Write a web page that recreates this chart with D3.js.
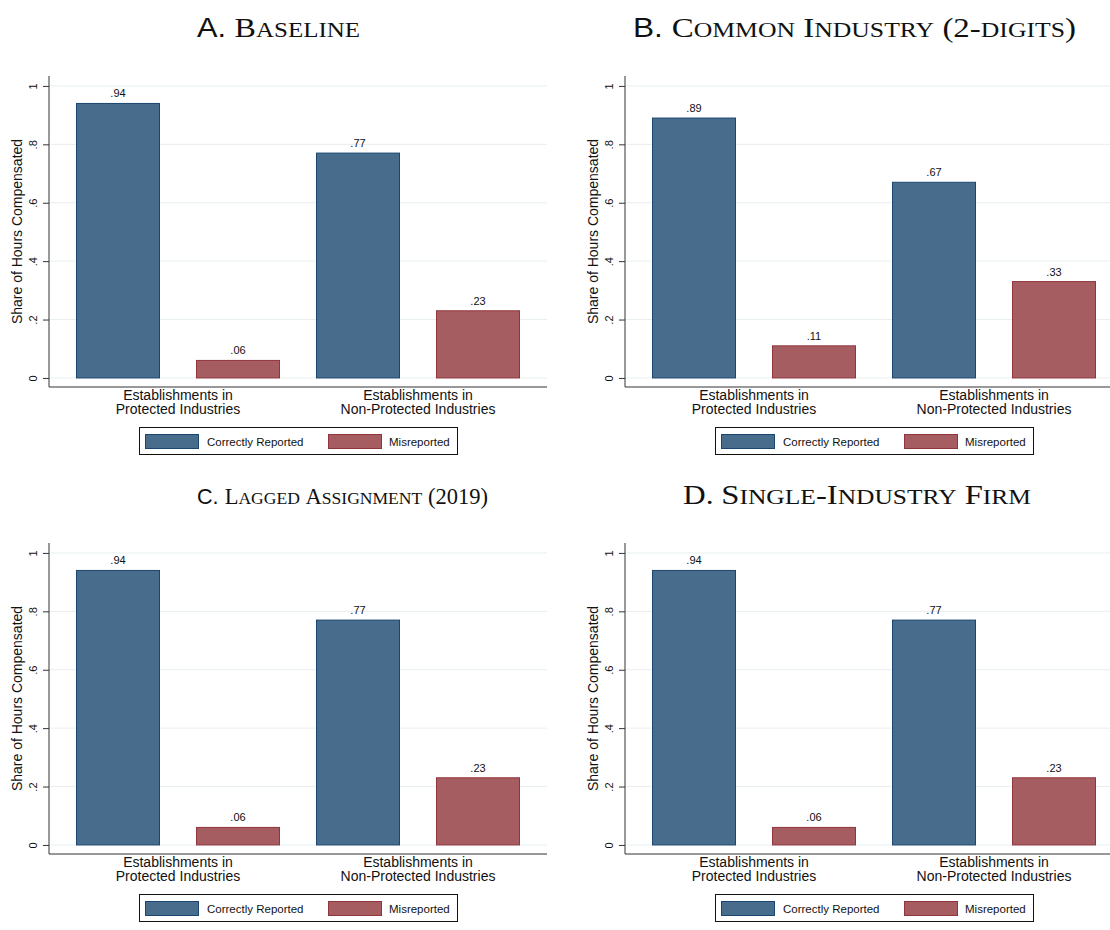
<!DOCTYPE html>
<html>
<head>
<meta charset="utf-8">
<script src="https://cdn.jsdelivr.net/npm/d3@7/dist/d3.min.js"></script>
<style>
  html, body { margin: 0; padding: 0; background: #fff; }
  svg { display: block; }
</style>
</head>
<body>
<svg id="chart" width="1110" height="930"></svg>
<script>
// ---------------- data ----------------
const panelPrefixes = ["A.", "B.", "C.", "D."];
const panelTitles = ["Baseline", "Common Industry (2-digits)", "Lagged Assignment (2019)", "Single-Industry Firm"];
const categories = [["Establishments in", "Protected Industries"], ["Establishments in", "Non-Protected Industries"]];
const seriesNames = ["Correctly Reported", "Misreported"];
const protectedCorrect = [0.94, 0.89, 0.94, 0.94];
const protectedMis = [0.06, 0.11, 0.06, 0.06];
const nonProtectedCorrect = [0.77, 0.67, 0.77, 0.77];
const nonProtectedMis = [0.23, 0.33, 0.23, 0.23];
const yTicks = [0, 0.2, 0.4, 0.6, 0.8, 1];
const yTickLabels = ["0", ".2", ".4", ".6", ".8", "1"];
const yTitle = "Share of Hours Compensated";

// ---------------- style ----------------
const fills = ["#486c8c", "#a65d62"];
const strokes = ["#1a476f", "#90353b"];
const gridColor = "#e7eff1";
const axisColor = "#333";
const sans = "'Liberation Sans', Arial, sans-serif";
const serif = "'Liberation Serif', 'Times New Roman', serif";

// panel placement
const panelOrigins = [[0, 0], [576, 0], [0, 467], [576, 467]];
const titleSpecs = [
  {x: 197, w: 163},
  {x: 633, w: 443},
  {x: 197, w: 291},
  {x: 683, w: 348}
];

const svg = d3.select("#chart");

// split a title into runs: lowercase letters become small capitals
function smallCapRuns(str) {
  const runs = [];
  for (const ch of str) {
    const small = /[a-z]/.test(ch);
    const last = runs[runs.length - 1];
    if (last && last.small === small) last.t += small ? ch.toUpperCase() : ch;
    else runs.push({small, t: small ? ch.toUpperCase() : ch});
  }
  return runs;
}

function drawTitle(i, o, fs) {
  const ts = titleSpecs[i];
  const tt = svg.append("text")
    .attr("x", ts.x).attr("y", o[1] + 37)
    .attr("font-family", serif).attr("font-size", fs).attr("fill", "#111");
  tt.append("tspan").attr("font-family", i < 3 ? sans : serif).attr("font-size", fs * 0.96)
    .text(panelPrefixes[i] + "\u00a0");
  smallCapRuns(panelTitles[i]).forEach(r => {
    tt.append("tspan").attr("font-size", r.small ? fs * 0.78 : fs).text(r.t.replace(/ /g, "\u00a0"));
  });
  return tt;
}

panelOrigins.forEach((o, i) => {
  const g = svg.append("g").attr("transform", `translate(${o[0]},${o[1]})`);

  const plotL = 49, plotR = 547;
  const y = d3.scaleLinear().domain([-0.031, 1.034]).range([387, 76]);
  const keys = ["p0", "p1", "n0", "n1"];
  const vals = [protectedCorrect[i], protectedMis[i], nonProtectedCorrect[i], nonProtectedMis[i]];
  const x = d3.scaleBand().domain(keys).range([plotL, plotR]).paddingInner(0.3).paddingOuter(0.225);

  // gridlines
  g.append("g").selectAll("line").data(yTicks).join("line")
    .attr("x1", plotL).attr("x2", plotR)
    .attr("y1", d => y(d)).attr("y2", d => y(d))
    .attr("stroke", gridColor).attr("stroke-width", 1);

  // bars
  g.append("g").selectAll("rect").data(vals).join("rect")
    .attr("x", (d, j) => x(keys[j]) + 0.5)
    .attr("width", x.bandwidth() - 1)
    .attr("y", d => y(d))
    .attr("height", d => y(0) - y(d))
    .attr("fill", (d, j) => fills[j % 2])
    .attr("stroke", (d, j) => strokes[j % 2])
    .attr("stroke-width", 1);

  // value labels
  g.append("g").selectAll("text").data(vals).join("text")
    .attr("x", (d, j) => x(keys[j]) + x.bandwidth() / 2)
    .attr("y", d => y(d) - 6)
    .attr("text-anchor", "middle")
    .attr("font-family", sans).attr("font-size", 11).attr("fill", "#111")
    .text(d => d3.format(".2f")(d).replace(/^0/, ""));

  // y axis
  const yAxis = d3.axisLeft(y).tickValues(yTicks).tickSize(6).tickFormat((d, k) => yTickLabels[k]);
  const ya = g.append("g").attr("transform", `translate(${plotL},0)`).call(yAxis);
  ya.select(".domain").attr("stroke", axisColor).attr("d", `M0,${y.range()[1]}V${y.range()[0]}`);
  ya.selectAll(".tick line").attr("stroke", axisColor);
  ya.selectAll(".tick text")
    .attr("font-family", sans).attr("font-size", 11).attr("fill", "#111")
    .attr("text-anchor", "middle")
    .attr("x", 0).attr("y", 0).attr("dy", 0)
    .attr("transform", "translate(-12,0) rotate(-90)");

  // x axis line
  g.append("line").attr("x1", plotL).attr("x2", plotR).attr("y1", 387).attr("y2", 387)
    .attr("stroke", axisColor).attr("stroke-width", 1);

  // category labels
  const groupCenters = [
    (x("p0") + x("p1") + x.bandwidth()) / 2,
    (x("n0") + x("n1") + x.bandwidth()) / 2
  ];
  categories.forEach((lines, c) => {
    lines.forEach((t, li) => {
      g.append("text").attr("x", groupCenters[c]).attr("y", 400 + li * 14)
        .attr("text-anchor", "middle").attr("font-family", sans).attr("font-size", 14)
        .attr("fill", "#111").text(t);
    });
  });

  // y title
  g.append("text")
    .attr("transform", `translate(22,${(y.range()[0] + y.range()[1]) / 2}) rotate(-90)`)
    .attr("text-anchor", "middle").attr("font-family", sans).attr("font-size", 14)
    .attr("fill", "#111").text(yTitle);

  // legend
  const lw = 318, lx = (plotL + plotR) / 2 - lw / 2, ly = 427;
  const lg = g.append("g").attr("transform", `translate(${lx},${ly})`);
  lg.append("rect").attr("x", 0.5).attr("y", 0.5).attr("width", lw).attr("height", 27)
    .attr("fill", "#fff").attr("stroke", "#111").attr("stroke-width", 1);
  const swX = [6, 189], txX = [68, 250];
  seriesNames.forEach((s, k) => {
    lg.append("rect").attr("x", swX[k] + 0.5).attr("y", 7.5).attr("width", 53).attr("height", 14)
      .attr("fill", fills[k]).attr("stroke", strokes[k]).attr("stroke-width", 1);
    lg.append("text").attr("x", txX[k]).attr("y", 18.5)
      .attr("font-family", sans).attr("font-size", 11.5).attr("fill", "#111").text(s);
  });

  // title: shrink the size if too wide, stretch slightly if too narrow
  const base = 28;
  let tt = drawTitle(i, o, base);
  const wNat = tt.node().getComputedTextLength();
  const ts = titleSpecs[i];
  if (wNat > ts.w) {
    tt.remove();
    tt = drawTitle(i, o, base * ts.w / wNat);
  } else {
    tt.attr("textLength", ts.w).attr("lengthAdjust", "spacingAndGlyphs");
  }
});
</script>
</body>
</html>
